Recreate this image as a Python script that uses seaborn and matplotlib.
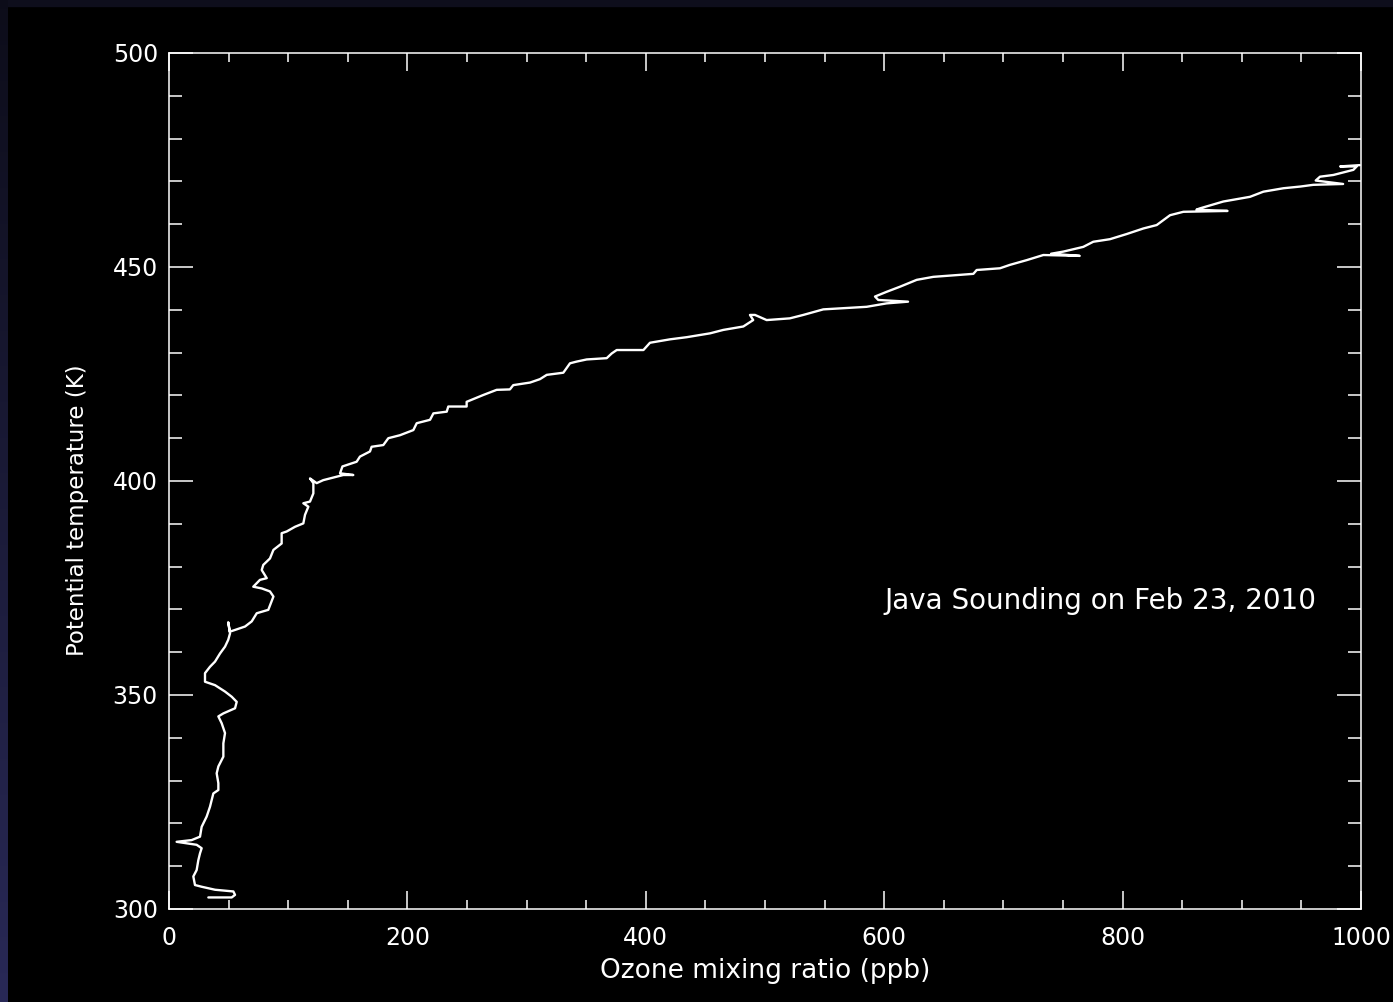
import numpy as np
import pandas as pd
import matplotlib
matplotlib.use("Agg")
import matplotlib.pyplot as plt
import seaborn as sns
from matplotlib.patches import Rectangle
from matplotlib.ticker import MultipleLocator

# Ozone sounding
ozone = [33, 52.6, 55.4, 54, 38.6, 27.4, 21.8, 20.4, 23.2, 24.6, 26, 27.4, 23.2, 6.4, 19,
         26, 27.4, 31.6, 34.4, 37.2, 41.4, 41.4, 40, 41.4, 45.6, 45.6, 47, 44.2, 41.4, 45.6,
         55.4, 56.8, 52.6, 47, 38.6, 30.2, 30.2, 34.4, 38.6, 42.8, 47, 49.7, 51.2, 49.7, 51,
         55.4, 63.8, 69.4, 73.6, 83.3, 87.6, 84.7, 77.8, 70.7, 76.3, 82, 77.8, 79.1, 84.7, 87.6,
         94.5, 94.5, 98.7, 105.7, 112.7, 114.1, 116.9, 112.7, 118.3, 121.1, 121.1, 118.3, 123.9,
         129.4, 135, 146.2, 154.6, 143.5, 145.5, 157.4, 160.2, 168.6, 170, 179.8, 184, 193.8,
         205, 207.8, 219, 221.8, 233, 234.3, 249.7, 249.7, 263.7, 274.9, 286, 288.8, 302.9,
         311.2, 316.9, 330.8, 336.4, 342, 350.4, 367.2, 371.4, 375.6, 398, 403.5, 420.3, 434.3,
         453.9, 465, 481.8, 490.1, 487.4, 491.6, 501.4, 520.8, 532.1, 548.9, 585.3, 602, 620,
         595, 592.3, 602, 613.3, 627.3, 641.2, 674.8, 677.6, 697.1, 705.5, 719.5, 733.5, 764,
         740, 750.3, 767, 775.4, 789.4, 803.4, 817.4, 828.6, 839.8, 851, 888, 862, 864.9, 884.5,
         906.9, 918.1, 934.9, 949.2, 960, 985, 962, 965.6, 976.8, 982.5, 993.6, 996.4, 982.5, 999]
theta = [302.7, 302.7, 303.3, 304.1, 304.5, 305.2, 305.6, 307.6, 309.1, 311.4, 313, 314.2, 315.0,
         315.7, 316.1, 316.9, 319.2, 321.6, 323.9, 327.0, 327.8, 329.4, 331.7, 333.3, 335.6,
         338.7, 341.1, 343.4, 345.0, 345.7, 346.9, 348.4, 349.6, 350.8, 352.3, 353.1, 355.1,
         356.6, 357.8, 359.7, 361.3, 362.9, 364.4, 367.0, 364.8, 365.2, 366, 367.2, 369.1, 369.9,
         373.0, 374.2, 374.9, 375.3, 376.9, 377.3, 379.2, 380.4, 381.9, 383.9, 385.4, 387.8,
         388.2, 389.3, 390.1, 392.1, 394.0, 394.8, 395.2, 397.1, 399.5, 400.6, 399.5, 400.2,
         400.6, 401.4, 401.4, 401.8, 403.4, 404.5, 405.7, 406.9, 408.0, 408.4, 410.0, 410.7,
         411.9, 413.5, 414.3, 415.8, 416.2, 417.4, 417.4, 418.5, 420.1, 421.3, 421.4, 422.4,
         423.0, 423.8, 424.8, 425.3, 427.5, 427.9, 428.4, 428.7, 429.8, 430.6, 430.6, 432.3,
         433.1, 433.6, 434.5, 435.3, 436.1, 437.6, 438.8, 438.8, 437.6, 438.0, 438.8, 440.1,
         440.7, 441.5, 441.9, 442.3, 443.1, 444.2, 445.4, 447.0, 447.7, 448.4, 449.3, 449.7,
         450.5, 451.6, 452.8, 452.6, 453.1, 453.6, 454.7, 455.9, 456.5, 457.7, 459.0, 459.8,
         462.1, 462.9, 463.1, 463.4, 463.7, 465.3, 466.4, 467.6, 468.4, 468.8, 469.2, 469.4,
         470.2, 471.1, 471.5, 471.9, 472.7, 473.5, 473.5, 473.8]

xticks = [0, 200, 400, 600, 800, 1000]
yticks = [300, 350, 400, 450, 500]

df = pd.DataFrame({"ozone": ozone, "theta": theta})

sns.set_theme(style="dark", rc={
    "axes.facecolor": "black",
    "figure.facecolor": "black",
    "text.color": "white",
    "axes.labelcolor": "white",
    "xtick.color": "white",
    "ytick.color": "white",
    "axes.edgecolor": "white",
})
plt.rcParams["font.family"] = ["DejaVu Sans"]

fig = plt.figure(figsize=(13.93, 10.02), dpi=100)

# dark frame round the plot window
grad = np.linspace(0, 1, 1002)[:, None]
frame = np.zeros((1002, 8, 3))
frame[..., 0] = 0.05 + 0.11 * grad
frame[..., 1] = 0.05 + 0.11 * grad
frame[..., 2] = 0.10 + 0.24 * grad
fig.figimage(frame, xo=0, yo=0, zorder=0)
fig.add_artist(Rectangle((0, 1 - 6 / 1002), 1, 6 / 1002, transform=fig.transFigure,
                         color="#0e0e1c", zorder=0))

ax = fig.add_axes([169 / 1393, 1 - 909 / 1002, 1192 / 1393, 856 / 1002])

sns.lineplot(data=df, x="ozone", y="theta", sort=False, estimator=None,
             color="white", linewidth=1.7, ax=ax)

ax.set_xlim(0, 1000)
ax.set_ylim(300, 500)
ax.set_xticks(xticks)
ax.set_yticks(yticks)
ax.xaxis.set_minor_locator(MultipleLocator(50))
ax.yaxis.set_minor_locator(MultipleLocator(10))
ax.tick_params(axis="x", which="major", direction="in", length=13, width=1.1,
               top=True, bottom=True, pad=12, labelsize=17)
ax.tick_params(axis="x", which="minor", direction="in", length=6.5, width=1.1,
               top=True, bottom=True)
ax.tick_params(axis="y", which="major", direction="in", length=17, width=1.1,
               left=True, right=True, pad=8, labelsize=17)
ax.tick_params(axis="y", which="minor", direction="in", length=9.5, width=1.1,
               left=True, right=True)
for s in ax.spines.values():
    s.set_color("white")
    s.set_linewidth(1.1)
ax.grid(False)

ax.set_xlabel("Ozone mixing ratio (ppb)", fontsize=19)
ax.set_ylabel("Potential temperature (K)", fontsize=16.5)
ax.xaxis.set_label_coords(0.5, -0.057)
ax.yaxis.set_label_coords(-0.067, 0.466)

ax.text(600, 372, "Java Sounding on Feb 23, 2010", fontsize=20, color="white",
        ha="left", va="center")

fig.savefig("out.png", dpi=100, facecolor=fig.get_facecolor())
